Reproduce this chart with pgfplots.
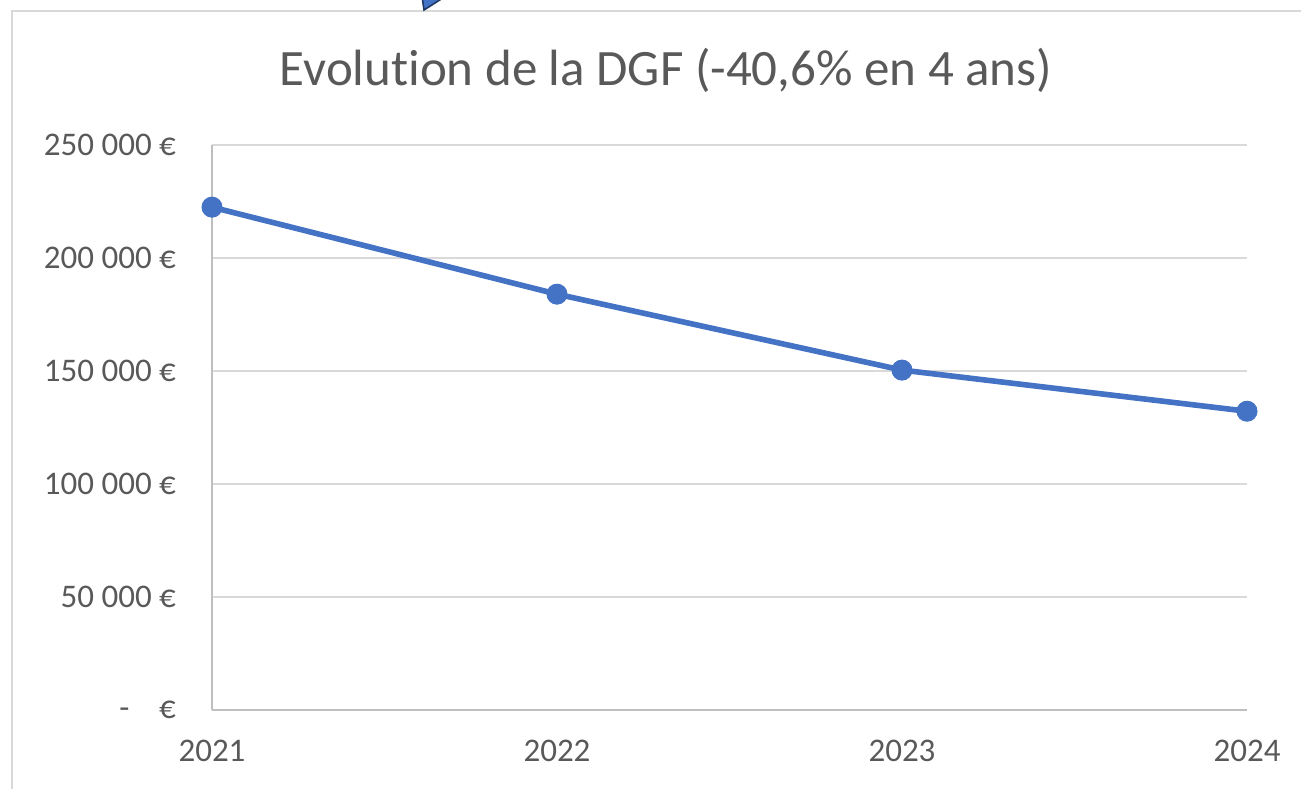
\documentclass[border=0pt]{standalone}
\usepackage{pgfplots}
\pgfplotsset{compat=1.18}
\usepackage{fontspec}
\setmainfont{Carlito}[Ligatures={NoCommon}]
\definecolor{txtgray}{HTML}{595959}
\definecolor{gridgray}{HTML}{D9D9D9}
\definecolor{axgray}{HTML}{BFBFBF}
\definecolor{serblue}{HTML}{4472C4}
\definecolor{darkblue}{HTML}{1F3864}
\begin{document}
\begin{tikzpicture}
\path[use as bounding box] (0,0) rectangle (650.5pt,394pt);
\begin{scope}
\clip (0,0) rectangle (650.5pt,394pt);
\draw[gridgray, line width=1.2pt] (6pt,-2pt) -- (6pt,388.5pt) -- (660pt,388.5pt);
\filldraw[fill=serblue, draw=darkblue, line width=0.8pt] (211pt,396pt) -- (212pt,389pt) -- (223pt,396pt) -- cycle;
\end{scope}
\node[anchor=base, text=txtgray, font=\fontsize{25.5pt}{30pt}\selectfont] at (333pt,351pt) {Evolution de la DGF (-40,6\% en 4 ans)};
\begin{axis}[
  at={(106pt,39pt)}, anchor=south west,
  scale only axis, width=517.5pt, height=282.5pt,
  xmin=2021, xmax=2024, ymin=0, ymax=250000,
  scaled y ticks=false,
  xtick={2021,2022,2023,2024},
  xticklabels={2021,2022,2023,2024},
  ytick={0,50000,100000,150000,200000,250000},
  yticklabels={{-\hspace{0.9em}€},{50 000 €},{100 000 €},{150 000 €},{200 000 €},{250 000 €}},
  axis x line*=bottom, axis y line*=left,
  axis line style={axgray, line width=1pt, -},
  major tick length=0pt,
  ymajorgrids, grid style={gridgray, line width=0.9pt},
  ticklabel style={text=txtgray, font=\fontsize{16.5pt}{19pt}\selectfont},
  yticklabel style={xshift=-14.5pt},
  xticklabel style={yshift=-11.5pt},
  clip=false,
]
\addplot[serblue, line width=2.8pt, mark=*, mark size=5pt, mark options={fill=serblue, draw=serblue, line width=0.5pt}]
  coordinates {(2021,222500) (2022,184000) (2023,150400) (2024,132200)};
\end{axis}
\end{tikzpicture}
\end{document}
